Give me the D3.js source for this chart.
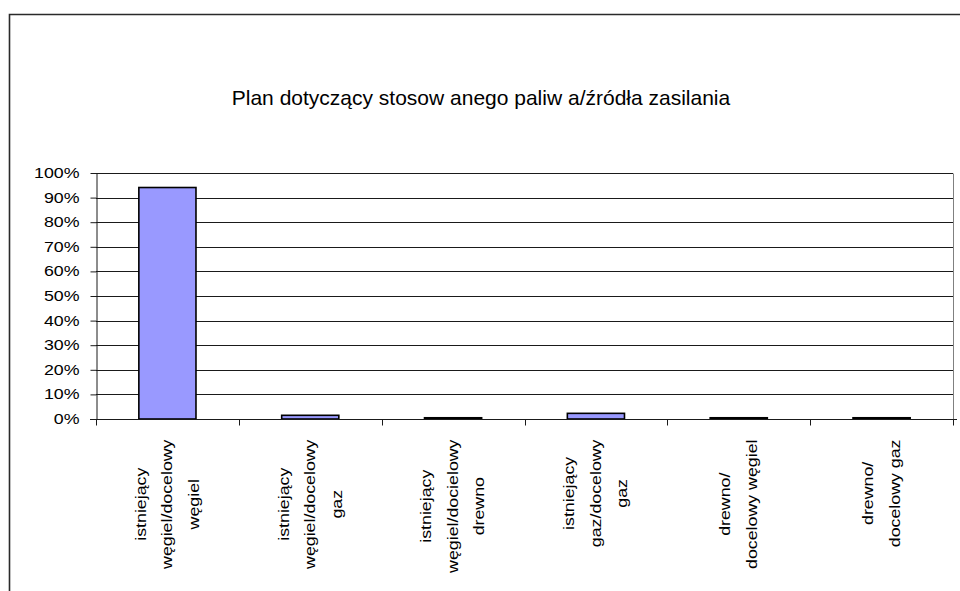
<!DOCTYPE html>
<html>
<head>
<meta charset="utf-8">
<script src="https://cdn.jsdelivr.net/npm/d3@7"></script>
<style>
  body { margin: 0; background: #fff; }
  svg { display: block; font-family: "Liberation Sans", Arial, sans-serif; }
</style>
</head>
<body>
<svg id="chart" width="960" height="591"></svg>
<script>
"use strict"

// Chart data
const title = "Plan dotyczący stosow anego paliw a/źródła zasilania"
const categories = [
    ["istniejący", "węgiel/docelowy", "węgiel"],
    ["istniejący", "węgiel/docelowy", "gaz"],
    ["istniejący", "węgiel/docielowy", "drewno"],
    ["istniejący", "gaz/docelowy", "gaz"],
    ["drewno/", "docelowy węgiel"],
    ["drewno/", "docelowy gaz"]
]
const values = [0.941, 0.015, 0.005, 0.023, 0.005, 0.005]
const yTicks = [0, 0.1, 0.2, 0.3, 0.4, 0.5, 0.6, 0.7, 0.8, 0.9, 1.0]

// Layout
const margins = {left: 96, top: 173, right: 7, bottom: 172}
const width = 960 - margins.left - margins.right
const height = 591 - margins.top - margins.bottom
const stretch = 1.27   // text in the reference is drawn wider than normal

const svg = d3.select("#chart")

// Outer chart border (only left and top visible)
svg.append("path")
    .attr("d", "M9.5,591 L9.5,14.5 L960,14.5")
    .attr("fill", "none")
    .attr("stroke", "#2a2a2a")
    .attr("stroke-width", 1.6)

// Title
svg.append("text")
    .attr("x", 481)
    .attr("y", 105)
    .attr("text-anchor", "middle")
    .style("font-size", "21px")
    .attr("fill", "#000")
    .text(title)

const x = d3.scaleBand()
    .domain(d3.range(categories.length))
    .range([0, width])
    .paddingInner(0.6)
    .paddingOuter(0.3)

const y = d3.scaleLinear()
    .domain([0, 1])
    .range([height, 0])

const g = svg.append("g")
    .attr("transform", "translate(" + margins.left + "," + margins.top + ")")

// Gridlines
g.append("g")
    .selectAll("line")
    .data(yTicks.slice(1))
    .enter().append("line")
    .attr("x1", 0)
    .attr("x2", width)
    .attr("y1", d => Math.round(y(d)) + 0.5)
    .attr("y2", d => Math.round(y(d)) + 0.5)
    .attr("stroke", "#1a1a1a")
    .attr("stroke-width", 1)

// Plot area right edge
g.append("line")
    .attr("x1", width + 0.5).attr("x2", width + 0.5)
    .attr("y1", Math.round(y(1)) + 0.5).attr("y2", height)
    .attr("stroke", "#808080")

// Bars
g.selectAll(".bar")
    .data(values)
    .enter().append("rect")
    .attr("class", "bar")
    .attr("x", (d, i) => x(i))
    .attr("y", d => y(d))
    .attr("width", x.bandwidth())
    .attr("height", d => height - y(d))
    .attr("fill", "#9999ff")
    .attr("stroke", "#000")
    .attr("stroke-width", 1.6)

// Y axis
const yAxis = d3.axisLeft(y)
    .tickValues(yTicks)
    .tickFormat(d3.format(".0%"))
    .tickSize(6)
    .tickSizeOuter(0)

const yg = g.append("g")
    .attr("transform", "translate(0.5,0)")
    .call(yAxis)
yg.select(".domain").attr("stroke", "#1a1a1a")
yg.selectAll(".tick line").attr("stroke", "#1a1a1a")
yg.selectAll(".tick text")
    .attr("x", 0)
    .attr("transform", "translate(-17,0) scale(" + stretch + ",1)")
    .attr("fill", "#000")
    .style("font-size", "14px")
    .style("font-family", "\"Liberation Sans\", Arial, sans-serif")

// X axis: ticks on band boundaries
const xg = g.append("g")
    .attr("transform", "translate(0," + (height + 0.5) + ")")
xg.append("line")
    .attr("x1", -6).attr("x2", width + 4)
    .attr("stroke", "#1a1a1a")
xg.selectAll(".xtick")
    .data(d3.range(categories.length + 1))
    .enter().append("line")
    .attr("class", "xtick")
    .attr("x1", i => Math.round(i * x.step()) + 0.5)
    .attr("x2", i => Math.round(i * x.step()) + 0.5)
    .attr("y1", 0).attr("y2", 6)
    .attr("stroke", "#1a1a1a")

// Rotated category labels, lines centred, block anchored near the axis
const lineGap = 26.5
const labelTop = 439 - margins.top - height
const labels = xg.selectAll(".xlabel")
    .data(categories)
    .enter().append("g")
    .attr("class", "xlabel")
    .attr("transform", (d, i) => "translate(" + (x(i) + x.bandwidth() / 2) + ",0) rotate(-90) scale(" + stretch + ",1)")

labels.each(function(lines) {
    const lab = d3.select(this)
    const texts = lab.selectAll("text")
        .data(lines)
        .enter().append("text")
        .attr("text-anchor", "middle")
        .attr("y", (d, j) => (j - (lines.length - 1) / 2) * lineGap)
        .attr("dy", "0.35em")
        .style("font-size", "14px")
        .attr("fill", "#000")
        .text(d => d)
    let maxW = 0
    texts.each(function() { maxW = Math.max(maxW, this.getComputedTextLength()) })
    texts.attr("x", -(labelTop / stretch + maxW / 2))
})
</script>
</body>
</html>
